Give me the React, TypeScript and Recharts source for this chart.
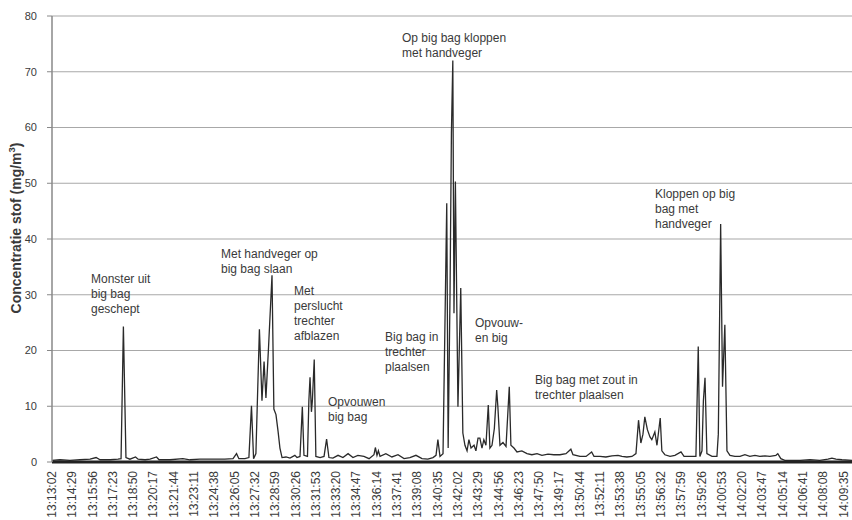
import React from 'react';
import { LineChart, Line, XAxis, YAxis, CartesianGrid } from 'recharts';

// Clock labels on the x axis (every 87 s)
const tickLabels = [
  '13:13:02', '13:14:29', '13:15:56', '13:17:23', '13:18:50', '13:20:17', '13:21:44', '13:23:11',
  '13:24:38', '13:26:05', '13:27:32', '13:28:59', '13:30:26', '13:31:53', '13:33:20', '13:34:47',
  '13:36:14', '13:37:41', '13:39:08', '13:40:35', '13:42:02', '13:43:29', '13:44:56', '13:46:23',
  '13:47:50', '13:49:17', '13:50:44', '13:52:11', '13:53:38', '13:55:05', '13:56:32', '13:57:59',
  '13:59:26', '14:00:53', '14:02:20', '14:03:47', '14:05:14', '14:06:41', '14:08:08', '14:09:35',
];

const yTicks = [0, 10, 20, 30, 40, 50, 60, 70, 80];

// seconds since 13:13:02
const timeSec = [
  0, 34, 77, 120, 163, 189, 206, 249, 283, 296, 306, 317, 334, 358, 369, 399, 420, 448, 459, 506,
  561, 591, 634, 699, 741, 776, 791, 801, 827, 844, 855, 864, 874, 889, 900, 909, 917, 928, 943, 951,
  960, 969, 977, 986, 1003, 1020, 1041, 1050, 1063, 1073, 1080, 1095, 1101, 1106, 1112, 1116, 1124, 1131, 1149, 1166,
  1177, 1187, 1204, 1226, 1247, 1269, 1290, 1311, 1337, 1359, 1380, 1386, 1393, 1399, 1406, 1431, 1457, 1483, 1509, 1534,
  1560, 1586, 1611, 1633, 1646, 1654, 1663, 1676, 1692, 1698, 1706, 1712, 1718, 1723, 1729, 1740, 1752, 1761, 1770, 1779,
  1787, 1796, 1809, 1817, 1826, 1834, 1843, 1851, 1860, 1870, 1877, 1886, 1896, 1906, 1911, 1920, 1933, 1946, 1960, 1967,
  1980, 1993, 2014, 2036, 2057, 2079, 2100, 2126, 2151, 2177, 2203, 2224, 2233, 2263, 2289, 2313, 2323, 2349, 2374, 2400,
  2426, 2443, 2464, 2486, 2503, 2514, 2524, 2533, 2541, 2552, 2563, 2571, 2584, 2593, 2607, 2614, 2627, 2649, 2670, 2696,
  2709, 2734, 2760, 2770, 2777, 2786, 2792, 2799, 2807, 2829, 2850, 2856, 2866, 2874, 2884, 2893, 2906, 2927, 2949, 2970,
  2991, 3013, 3034, 3056, 3077, 3103, 3111, 3124, 3141, 3163, 3206, 3249, 3291, 3326, 3343, 3360, 3386, 3429,
];

// Concentratie stof (mg/m3)
const conc = [
  0.3, 0.4, 0.3, 0.4, 0.5, 0.8, 0.4, 0.4, 0.5, 0.6, 24.3, 0.8, 0.5, 0.9, 0.5, 0.4, 0.5, 0.9, 0.4, 0.4,
  0.6, 0.4, 0.5, 0.5, 0.5, 0.6, 1.5, 0.6, 0.6, 0.8, 10.1, 0.6, 1.5, 23.8, 11, 18, 11.5, 20.5, 33.5, 9.5,
  8.5, 5.5, 2.5, 0.8, 0.9, 0.7, 1.2, 0.8, 1, 9.9, 1.2, 1, 11, 15.2, 9, 11, 18.4, 1, 0.8, 1,
  4.1, 0.8, 0.7, 1.2, 0.8, 1.5, 0.8, 1.2, 1, 0.6, 1.3, 2.6, 1.2, 2, 1, 1.5, 0.9, 1.3, 0.6, 0.8,
  1.2, 0.6, 0.5, 0.8, 1.2, 4, 1, 1.5, 46.4, 2.5, 30, 59, 72, 26.7, 50.3, 9.9, 31.2, 5.2, 3, 2,
  4, 2.5, 3, 2, 4.3, 4.3, 2.5, 4, 3, 10.2, 2.5, 3, 6, 12.9, 10, 3, 3.5, 2.8, 13.5, 3,
  2.5, 1.8, 2, 1.5, 1.3, 1.5, 1.2, 1.4, 1.3, 1.3, 1.5, 2.3, 1.3, 1, 1, 1.8, 1, 1, 0.9, 1.1,
  1.2, 1, 0.9, 1, 1.5, 7.5, 3.4, 5, 8.1, 5.8, 4.5, 4, 5.4, 3, 7.9, 2, 1.3, 1, 1.2, 1.8,
  1, 1, 1, 20.7, 1, 2, 11, 15.1, 1.5, 1, 1, 5, 42.7, 13.5, 24.6, 2, 1.2, 1, 1, 1.3,
  1, 1.2, 1, 1.1, 1, 1.2, 1.5, 0.6, 0.3, 0.3, 0.3, 0.4, 0.3, 0.5, 0.7, 0.5, 0.4, 0.3,
];

const toSec = (s: string) => {
  const [h, m, x] = s.split(':').map(Number);
  return h * 3600 + m * 60 + x;
};
const t0 = toSec(tickLabels[0]);
const tickSec = tickLabels.map((l) => toSec(l) - t0);
const data = timeSec.map((t, i) => ({ t, v: conc[i] }));

const FONT = 'Arial, "Liberation Sans", sans-serif';
const TXT = '#3a3a3a';

const annotations = [
  { x: 91, y: 283, lines: ['Monster uit', 'big bag', 'geschept'] },
  { x: 221, y: 258, lines: ['Met handveger op', 'big bag slaan'] },
  { x: 294, y: 295, lines: ['Met', 'perslucht', 'trechter', 'afblazen'] },
  { x: 328, y: 406, lines: ['Opvouwen', 'big bag'] },
  { x: 385, y: 341, lines: ['Big bag in', 'trechter', 'plaalsen'] },
  { x: 402, y: 42, lines: ['Op big bag kloppen', 'met handveger'] },
  { x: 475, y: 327, lines: ['Opvouw-', 'en big'] },
  { x: 535, y: 384, lines: ['Big bag met zout in', 'trechter plaalsen'] },
  { x: 655, y: 198, lines: ['Kloppen op big', 'bag met', 'handveger'] },
];

const XTick = (props: any) => {
  const { x, y, payload } = props;
  const idx = tickSec.indexOf(payload.value);
  return (
    <text
      x={x}
      y={y}
      transform={`rotate(-90 ${x} ${y})`}
      textAnchor="end"
      dy={4}
      fontSize={12}
      fill={TXT}
      fontFamily={FONT}
    >
      {idx >= 0 ? tickLabels[idx] : ''}
    </text>
  );
};

export default function App() {
  return (
    <div style={{ position: 'absolute', left: 0, top: 0, width: 852, height: 520, background: '#fff' }}>
      <LineChart
        width={852}
        height={520}
        data={data}
        margin={{ top: 16, right: 0, bottom: 0, left: 0 }}
      >
        <CartesianGrid horizontal vertical={false} stroke="#a8a8a8" strokeWidth={1.2} />
        <XAxis
          dataKey="t"
          type="number"
          domain={[0, 3429]}
          ticks={tickSec}
          interval={0}
          height={58}
          tick={<XTick />}
          tickLine={false}
          tickSize={0}
          tickMargin={9}
          axisLine={{ stroke: '#222', strokeWidth: 3 }}
          allowDataOverflow
        />
        <YAxis
          type="number"
          domain={[0, 80]}
          ticks={yTicks}
          interval={0}
          width={52}
          tickSize={5}
          tickMargin={10}
          tickLine={{ stroke: '#888' }}
          axisLine={{ stroke: '#888', strokeWidth: 1.5 }}
          tick={{ fontSize: 11, fill: TXT, fontFamily: FONT }}
        />
        <Line
          type="linear"
          dataKey="v"
          stroke="#2a2a2a"
          strokeWidth={1.3}
          dot={false}
          isAnimationActive={false}
        />
      </LineChart>
      <svg
        width={852}
        height={520}
        style={{ position: 'absolute', left: 0, top: 0, pointerEvents: 'none' }}
      >
        <text
          transform="rotate(-90 16 228)"
          x={16}
          y={228}
          textAnchor="middle"
          dominantBaseline="central"
          fontSize={14}
          fontWeight="bold"
          fill={TXT}
          fontFamily={FONT}
        >
          Concentratie stof (mg/m
          <tspan fontSize={9.5} dy={-5}>3</tspan>
          <tspan dy={5}>)</tspan>
        </text>
        {annotations.map((a, i) => (
          <text key={i} x={a.x} y={a.y} fontSize={12} fill={TXT} fontFamily={FONT}>
            {a.lines.map((l, j) => (
              <tspan key={j} x={a.x} dy={j === 0 ? 0 : 15}>
                {l}
              </tspan>
            ))}
          </text>
        ))}
      </svg>
    </div>
  );
}
